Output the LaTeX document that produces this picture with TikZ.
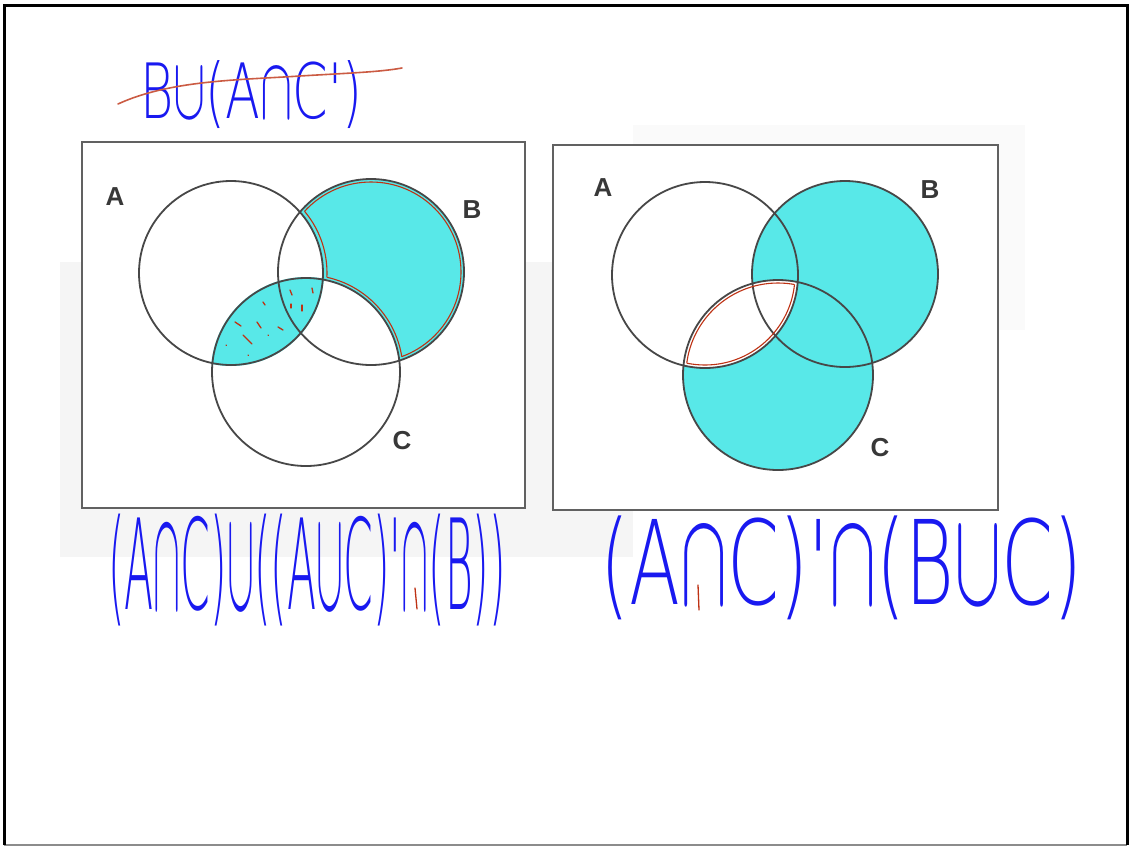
\documentclass[tikz,border=0pt]{standalone}
\usepackage{fontspec}
\usepackage{graphicx}
\IfFontExistsTF{DejaVu Sans ExtraLight}{\newfontfamily\hand{DejaVu Sans ExtraLight}}{\newfontfamily\hand{DejaVu Sans}}
\newfontfamily\symfont{Latin Modern Math}
\newcommand{\hcap}{{\symfont\scalebox{0.95}[1.15]{∩}}}
\newcommand{\hcup}{{\symfont\scalebox{0.95}[1.15]{∪}}}
\newfontfamily\labfont{Liberation Sans}
\definecolor{cyanhl}{RGB}{88,232,232}
\definecolor{redink}{RGB}{190,50,20}
\definecolor{handblue}{RGB}{25,25,240}
\tikzset{
  venn/.style={draw=black!72, line width=1.8pt},
  boxframe/.style={draw=black!62, line width=1.6pt, fill=white},
  redline/.style={draw=redink, line width=1.1pt},
  tick/.style={draw=redink, line width=1.3pt, line cap=round},
  setlab/.style={font=\labfont\bfseries\fontsize{26}{26}\selectfont, text=black!78, inner sep=0pt},
  hw/.style={text=handblue, inner sep=0pt, anchor=north west},
}
\begin{document}
\begin{tikzpicture}[x=1pt,y=-1pt]
\useasboundingbox (0,0) rectangle (1129,847);
\fill[white] (0,0) rectangle (1129,847);
% scan backgrounds
\fill[black!4] (60,262) rectangle (633,557);
\fill[black!2] (633,125) rectangle (1025,330);
% outer frame
\draw[black!45, line width=1.5pt] (4,845) -- (1127,845);
\draw[black, line width=3pt] (4,845) -- (4,5) -- (1127,5) -- (1127,845);

% ---------- left diagram ----------
\draw[boxframe] (82,142) rectangle (525,508);
\coordinate (A1) at (231,273);
\coordinate (B1) at (371,272);
\coordinate (C1) at (306,372);
\begin{scope}
  \clip (B1) circle[radius=93pt];
  \fill[cyanhl] (B1) circle[radius=93pt];
  \fill[white] (A1) circle[radius=92pt];
  \fill[white] (C1) circle[radius=94pt];
\end{scope}
\begin{scope}
  \clip (A1) circle[radius=93pt];
  \fill[cyanhl] (C1) circle[radius=95pt];
\end{scope}
\draw[venn] (A1) circle[radius=92pt];
\draw[venn] (B1) circle[radius=93pt];
\draw[venn] (C1) circle[radius=94pt];
% red outline of B only
\begin{scope}
  \clip (B1) circle[radius=90pt];
  \begin{scope}[even odd rule]
    \clip (0,0) rectangle (1129,847) (C1) circle[radius=97pt];
    \draw[redline] (A1) circle[radius=96pt];
  \end{scope}
\end{scope}
\begin{scope}
  \clip (B1) circle[radius=90pt];
  \begin{scope}[even odd rule]
    \clip (0,0) rectangle (1129,847) (A1) circle[radius=96pt];
    \draw[redline] (C1) circle[radius=97pt];
  \end{scope}
\end{scope}
\begin{scope}[even odd rule]
  \clip (0,0) rectangle (1129,847) (A1) circle[radius=96pt];
  \begin{scope}[even odd rule]
    \clip (0,0) rectangle (1129,847) (C1) circle[radius=97pt];
    \draw[redline] (B1) circle[radius=90pt];
  \end{scope}
\end{scope}
% red dashes in lens
\draw[tick] (290,290) -- (292,295);
\draw[tick] (312,288) -- (313,293);
\draw[tick] (302,305) -- (302,311);
\draw[tick] (291,304) -- (291,308);
\draw[tick] (263,302) -- (265,305);
\draw[tick] (235,322) -- (241,326);
\draw[tick] (257,322) -- (261,328);
\draw[tick] (278,327) -- (283,330);
\draw[tick] (243,335) -- (252,344);
\draw[tick] (268,335) -- (268.5,335.5);
\draw[tick] (248,355) -- (248.5,355.5);
\draw[tick] (226,345) -- (226.5,345.5);
\node[setlab] (la1) at (115,197) {A};
\node[setlab] (lb1) at (472,210) {B};
\node[setlab] (lc1) at (402,441) {C};

% ---------- right diagram ----------
\draw[boxframe] (553,145) rectangle (998,510);
\coordinate (A2) at (705,275);
\coordinate (B2) at (845,274);
\coordinate (C2) at (778,375);
\fill[cyanhl] (B2) circle[radius=93pt];
\fill[cyanhl] (C2) circle[radius=95pt];
\begin{scope}
  \clip (A2) circle[radius=93pt];
  \fill[white] (C2) circle[radius=95pt];
\end{scope}
\draw[venn] (A2) circle[radius=93pt];
\draw[venn] (B2) circle[radius=93pt];
\draw[venn] (C2) circle[radius=95pt];
\begin{scope}
  \clip (A2) circle[radius=90pt];
  \draw[redline] (C2) circle[radius=92pt];
\end{scope}
\begin{scope}
  \clip (C2) circle[radius=92pt];
  \draw[redline] (A2) circle[radius=90pt];
\end{scope}
\node[setlab] (la2) at (603,188) {A};
\node[setlab] (lb2) at (930,190) {B};
\node[setlab] (lc2) at (880,448) {C};

% ---------- handwriting ----------
\node[hw] (t0) at (140,60) {\resizebox*{222pt}{68pt}{\hand B\hcup(A\hcap C')}};
\draw[draw=redink!80, line width=1.6pt, line cap=round]
  (118,104) .. controls (170,80) and (240,80) .. (300,76) .. controls (350,73) and (380,72) .. (402,68);
\node[hw] (t1) at (108,514) {\resizebox*{398pt}{112pt}{\hand (A\hcap C)\hcup((A\hcup C)'\hcap(B))}};
\draw[tick] (415,588) -- (417,609);
\node[hw] (t2) at (600,516) {\resizebox*{482pt}{104pt}{\hand (A\hcap C)'\hcap(B\hcup C)}};
\draw[tick] (698,585) -- (699,610);
\end{tikzpicture}
\end{document}
